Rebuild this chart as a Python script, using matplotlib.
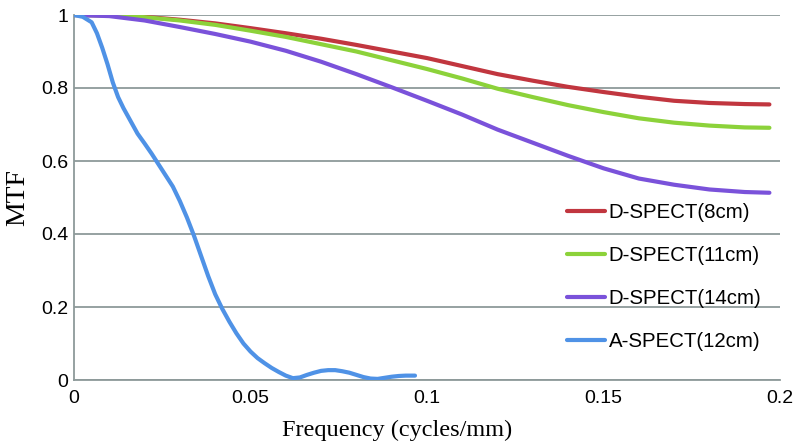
import matplotlib
matplotlib.use("Agg")
import matplotlib.pyplot as plt

# Frequency (cycles/mm) and MTF values
x_d8 = [0, 0.01, 0.02, 0.03, 0.04, 0.05, 0.06, 0.07, 0.08, 0.09, 0.1, 0.11, 0.12,
        0.13, 0.14, 0.15, 0.16, 0.17, 0.18, 0.19, 0.197]
y_d8 = [1.0, 0.999, 0.995, 0.987, 0.977, 0.964, 0.95, 0.935, 0.918, 0.9, 0.882,
        0.86, 0.838, 0.82, 0.803, 0.789, 0.776, 0.765, 0.759, 0.756, 0.755]

x_d11 = [0, 0.01, 0.02, 0.03, 0.04, 0.05, 0.06, 0.07, 0.08, 0.09, 0.1, 0.11, 0.12,
         0.13, 0.14, 0.15, 0.16, 0.17, 0.18, 0.19, 0.197]
y_d11 = [1.0, 0.999, 0.994, 0.985, 0.973, 0.957, 0.94, 0.92, 0.9, 0.876, 0.852,
         0.826, 0.798, 0.775, 0.753, 0.734, 0.717, 0.705, 0.697, 0.692, 0.691]

x_d14 = [0, 0.01, 0.02, 0.03, 0.04, 0.05, 0.06, 0.07, 0.08, 0.09, 0.1, 0.11, 0.12,
         0.13, 0.14, 0.15, 0.16, 0.17, 0.18, 0.19, 0.197]
y_d14 = [1.0, 0.997, 0.985, 0.967, 0.948, 0.927, 0.902, 0.872, 0.838, 0.802, 0.765,
         0.727, 0.686, 0.65, 0.614, 0.58, 0.552, 0.535, 0.522, 0.515, 0.513]

x_a12 = [0, 0.0025, 0.005, 0.0065, 0.008, 0.0095, 0.011, 0.0125, 0.014, 0.016,
         0.018, 0.02, 0.022, 0.024, 0.026, 0.028, 0.03, 0.032, 0.034, 0.036,
         0.038, 0.04, 0.042, 0.044, 0.046, 0.048, 0.05, 0.052, 0.054, 0.056,
         0.058, 0.06, 0.062, 0.064, 0.066, 0.068, 0.07, 0.072, 0.074, 0.076,
         0.078, 0.08, 0.082, 0.084, 0.086, 0.088, 0.09, 0.092, 0.094, 0.0966]
y_a12 = [1.0, 0.995, 0.98, 0.95, 0.91, 0.865, 0.815, 0.775, 0.745, 0.71,
         0.675, 0.648, 0.62, 0.59, 0.56, 0.53, 0.49, 0.445, 0.395, 0.34,
         0.285, 0.235, 0.195, 0.16, 0.128, 0.1, 0.078, 0.06, 0.046, 0.033,
         0.022, 0.012, 0.005, 0.007, 0.014, 0.02, 0.025, 0.027, 0.027, 0.024,
         0.02, 0.014, 0.008, 0.004, 0.003, 0.006, 0.009, 0.011, 0.012, 0.012]

labels = ["D-SPECT(8cm)", "D-SPECT(11cm)", "D-SPECT(14cm)", "A-SPECT(12cm)"]
colors = ["#C1363F", "#8CD23A", "#7A52DA", "#4F92E6"]
xticks = [0, 0.05, 0.1, 0.15, 0.2]
xtick_labels = ["0", "0.05", "0.1", "0.15", "0.2"]
yticks = [0, 0.2, 0.4, 0.6, 0.8, 1.0]
ytick_labels = ["0", "0.2", "0.4", "0.6", "0.8", "1"]

fig = plt.figure(figsize=(7.99, 4.48), dpi=100)
ax = fig.add_axes([74 / 799, 1 - 380 / 448, (780 - 74) / 799, (380 - 15) / 448])

series = [(x_d8, y_d8), (x_d11, y_d11), (x_d14, y_d14), (x_a12, y_a12)]
for (xs, ys), lab, col in zip(series, labels, colors):
    ax.plot(xs, ys, color=col, lw=3.0, label=lab, solid_capstyle="round",
            solid_joinstyle="round", zorder=3)

grid_col = "#8E9A9A"
ax.set_xlim(0, 0.2)
ax.set_ylim(0, 1)
ax.set_xticks(xticks)
ax.set_xticklabels(xtick_labels)
ax.set_yticks(yticks)
ax.set_yticklabels(ytick_labels)
ax.yaxis.grid(True, color=grid_col, lw=1.3)
ax.xaxis.grid(False)
ax.set_axisbelow(True)
for s in ["top", "right"]:
    ax.spines[s].set_visible(False)
for s in ["left", "bottom"]:
    ax.spines[s].set_color(grid_col)
    ax.spines[s].set_linewidth(1.3)
ax.tick_params(axis="both", length=0, labelsize=14, colors="black")
ax.tick_params(axis="x", pad=7)
ax.tick_params(axis="y", pad=4)
for t in ax.get_xticklabels() + ax.get_yticklabels():
    t.set_fontfamily("Liberation Sans")

ax.set_xlabel("Frequency (cycles/mm)", fontfamily="Liberation Serif", fontsize=17.5)
ax.xaxis.set_label_coords((397 - 74) / 706, -(430 - 380) / 365, transform=None)
ax.xaxis.label.set_verticalalignment("center")
ax.xaxis.set_label_coords((397 - 74) / 706, -(430 - 380) / 365)
ax.set_ylabel("MTF", fontfamily="Liberation Serif", fontsize=20)
ax.yaxis.label.set_verticalalignment("center")
ax.yaxis.set_label_coords(-(74 - 18) / 706, 0.5)

leg = fig.legend(loc="center left", bbox_to_anchor=(567 / 799, 1 - 277 / 448),
                 frameon=False, borderpad=0, borderaxespad=0, handlelength=1.85,
                 handletextpad=0.2, labelspacing=1.17,
                 prop={"family": "Liberation Sans", "size": 14.7})

fig.savefig("out.png", dpi=100)
